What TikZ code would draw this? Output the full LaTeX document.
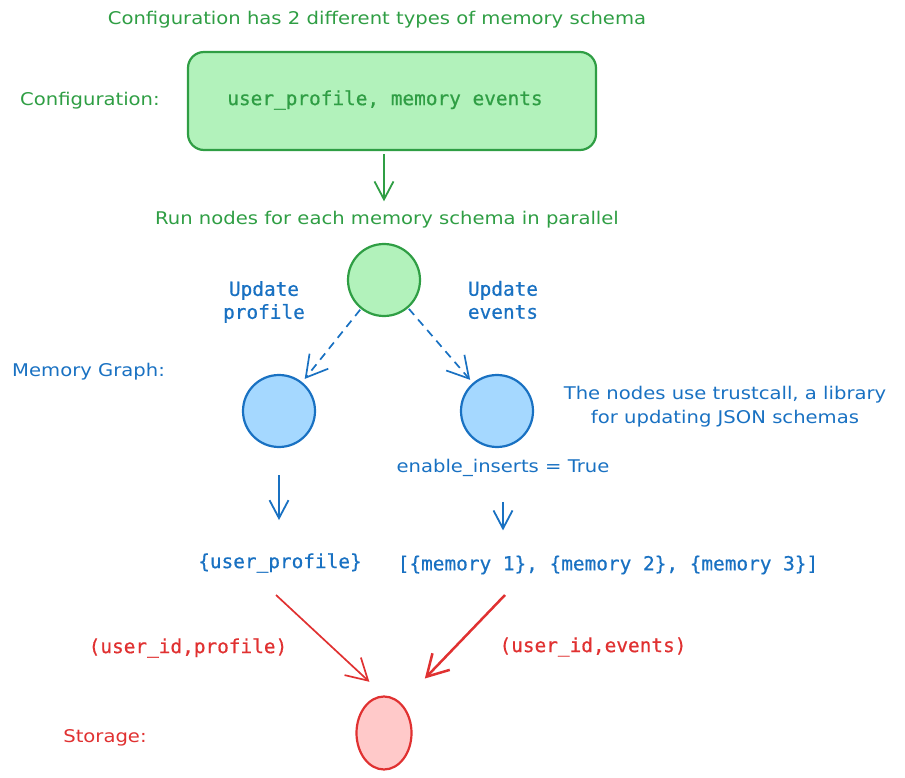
\documentclass[tikz,border=0pt]{standalone}
\usepackage{fontspec}
\setmainfont[FakeStretch=1.12]{DejaVu Sans}
\setmonofont[FakeBold=0.6]{DejaVu Sans Mono}
\usetikzlibrary{arrows.meta,shapes.geometric}
\definecolor{gstroke}{HTML}{2F9E44}
\definecolor{gfill}{HTML}{B2F2BB}
\definecolor{bstroke}{HTML}{1971C2}
\definecolor{bfill}{HTML}{A5D8FF}
\definecolor{rstroke}{HTML}{E03131}
\definecolor{rfill}{HTML}{FFC9C9}
\tikzset{
  hand/.style={font=\fontsize{17.5pt}{24pt}\selectfont, inner sep=0pt, align=center},
  mono/.style={font=\ttfamily\fontsize{19.4pt}{24pt}\selectfont, inner sep=0pt, align=center},
  shapeline/.style={line width=2.2pt},
  tip/.style={-{Straight Barb[length=18pt,width=19pt]}, line width=1.8pt},
  bigtip/.style={-{Straight Barb[length=21pt,width=24pt]}, line width=1.7pt},
}
\begin{document}
\begin{tikzpicture}[x=1pt,y=-1pt]
\useasboundingbox (0,0) rectangle (905,778);
% configuration
\node[hand, text=gstroke] (title) at (377,20) {Configuration has 2 different types of memory schema};
\node[hand, text=gstroke, anchor=west] (cfglab) at (20,101) {Configuration:};
\node[draw=gstroke, fill=gfill, shapeline, rounded corners=16pt, minimum width=408pt, minimum height=98pt] (box) at (392,101) {};
\node[mono, text=gstroke] (boxtxt) at (385,100) {user\_profile, memory events};
\node[hand, text=gstroke] (run) at (387,220) {Run nodes for each memory schema in parallel};
% memory graph
\node[draw=gstroke, fill=gfill, shapeline, circle, minimum size=72pt] (g) at (384,280) {};
\draw[tip, draw=gstroke, shorten <=3pt, shorten >=10pt] (box.south -| g) -- (run.north -| g);
\node[hand, text=bstroke, anchor=west] (mglab) at (12,372) {Memory Graph:};
\node[draw=bstroke, fill=bfill, shapeline, circle, minimum size=72pt] (b1) at (279,411) {};
\node[draw=bstroke, fill=bfill, shapeline, circle, minimum size=72pt] (b2) at (497,411) {};
\node[mono, text=bstroke] (up1) at (264,302) {Update\\[-1pt]profile};
\node[mono, text=bstroke] (up2) at (503,300) {Update\\[-1pt]events};
\draw[bigtip, draw=bstroke, dashed, dash pattern=on 8pt off 6pt, shorten <=1pt, shorten >=4pt] (g) -- (b1);
\draw[bigtip, draw=bstroke, dashed, dash pattern=on 8pt off 6pt, shorten <=1pt, shorten >=4pt] (g) -- (b2);
\node[hand, text=bstroke] (note) at (725,407) {The nodes use trustcall, a library\\for updating JSON schemas};
\node[hand, text=bstroke] (ei) at (503,468) {enable\_inserts = True};
\node[mono, text=bstroke] (up) at (280,563) {\{user\_profile\}};
\node[mono, text=bstroke] (list) at (608,565) {[\{memory 1\}, \{memory 2\}, \{memory 3\}]};
\draw[tip, draw=bstroke, shorten <=27pt, shorten >=33pt] (b1) -- (b1 |- up.north);
\draw[tip, draw=bstroke, shorten <=25pt, shorten >=25pt] (ei.south) -- (ei.south |- list.north);
% storage
\node[mono, text=rstroke] (l1) at (188,648) {(user\_id,profile)};
\node[mono, text=rstroke] (l2) at (593,647) {(user\_id,events)};
\node[hand, text=rstroke] (stlab) at (105,738) {Storage:};
\node[draw=rstroke, fill=rfill, shapeline, ellipse, minimum width=55pt, minimum height=73pt, inner sep=0pt] (st) at (384,733) {};
\coordinate (a1s) at (276,595);
\coordinate (a2s) at (505,595);
\draw[bigtip, draw=rstroke, shorten >=20pt] (a1s) -- (st.north);
\draw[bigtip, draw=rstroke, line width=2.5pt, shorten >=34pt] (a2s) -- (st.60);
\end{tikzpicture}
\end{document}
